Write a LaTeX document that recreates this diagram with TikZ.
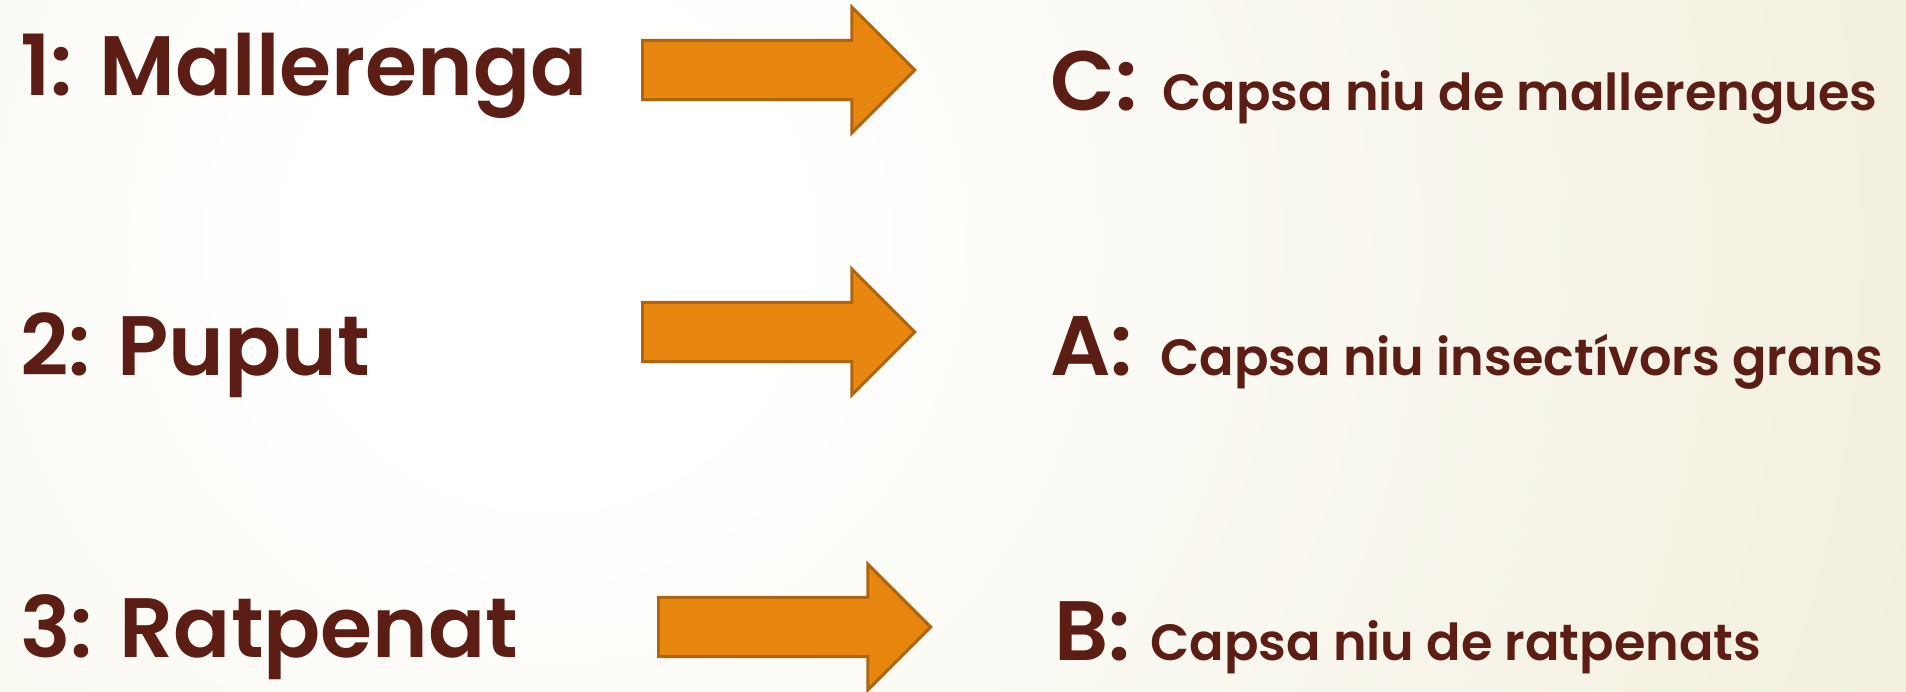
\documentclass[tikz,border=0pt]{standalone}
\usepackage{fontspec}
\setmainfont{Poppins}[BoldFont={Poppins SemiBold}]
\usetikzlibrary{shapes.arrows}
\definecolor{nutbrown}{HTML}{5C1E14}
\definecolor{boxorange}{HTML}{E8870F}
\definecolor{boxedge}{HTML}{B0640E}
\definecolor{paper}{HTML}{E8E3C3}
\pgfdeclareradialshading{glow}{\pgfpoint{0bp}{0bp}}{color(0bp)=(white); color(2bp)=(white); color(20bp)=(paper); color(25bp)=(paper); color(50bp)=(paper)}
\tikzstyle{bird}=[anchor=base west,inner sep=0pt,text=nutbrown,font=\fontsize{48}{58}\selectfont\bfseries]
\tikzstyle{nestbox}=[anchor=base west,inner sep=0pt,text=nutbrown,font=\fontsize{48}{58}\selectfont\bfseries]
\tikzstyle{info}=[anchor=base west,inner sep=0pt,text=nutbrown,font=\fontsize{29}{35}\selectfont\bfseries]
\tikzstyle{pointer}=[single arrow,anchor=tail,draw=boxedge,fill=boxorange,line width=1.7pt,inner xsep=0pt,inner ysep=16pt,minimum height=155pt,minimum width=0pt,single arrow head extend=19pt,single arrow tip angle=90]

\begin{document}
\begin{tikzpicture}[x=0.02cm,y=-0.02cm]
    % Background glow
    \begin{scope}
        \clip (0,0) rectangle (1906,691);
        \shade[shading=glow] (547,243) circle (2900);
    \end{scope}
    \useasboundingbox (0,0) rectangle (1906,691);

    % First we put the birds
    \foreach \y/\name/\txt in {95/mallerenga/1: Mallerenga, 375/puput/2: Puput, 657/ratpenat/3: Ratpenat}
        \node[bird] (\name) at (20,\y) {\txt};

    % Then the arrows
    \foreach \x/\y/\name in {641/70/arrowone, 641/332/arrowtwo, 657/627/arrowthree}
        \node[pointer] (\name) at (\x,\y) {};

    % And the nest boxes
    \foreach \y/\letter/\lx/\ix/\name/\txt in {110/C/1050/1162/boxc/Capsa niu de mallerengues, 375/A/1050/1160/boxa/Capsa niu insectívors grans, 660/B/1054/1150/boxb/Capsa niu de ratpenats}
    {
        \node[nestbox] (\name) at (\lx,\y) {\letter:};
        \node[info] (info\name) at (\ix,\y) {\txt};
    }
\end{tikzpicture}
\end{document}
